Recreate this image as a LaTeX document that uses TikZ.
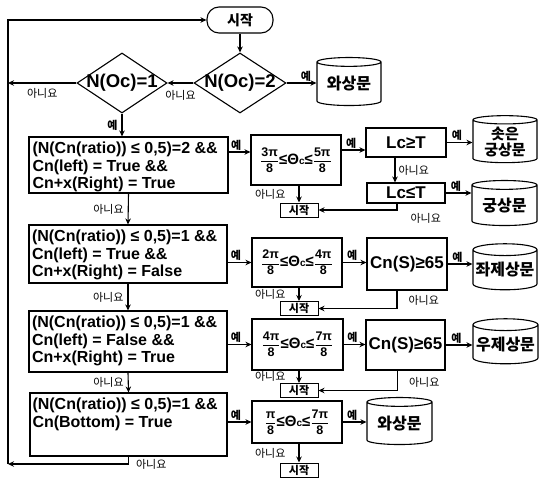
\documentclass[tikz,border=0pt]{standalone}
\usepackage{amsmath}
\usepackage{fontspec}
\setmainfont{Liberation Sans}
\newfontfamily\kr{Noto Sans CJK KR}
\usetikzlibrary{shapes.geometric,arrows.meta,calc}
\newcommand\mycond[2]{\parbox[c][#1][t]{192pt}{#2}}
\newcommand\mybig[1]{{\fontsize{15}{15}\selectfont #1}}
\newcommand\myang[2]{$\dfrac{\text{#1}}{\text{8}}$\mybig{≤Θ}{\fontsize{10}{10}\selectfont c}\mybig{≤}$\dfrac{\text{#2}}{\text{8}}$}
\begin{document}
\begin{tikzpicture}[x=1pt,y=-1pt,
 ln/.style={line width=1.1pt},
 arr/.style={ln,-{Stealth[length=6pt,width=5.5pt]}},
 box/.style={draw,ln,rectangle,inner sep=0pt},
 cond/.style={box,font=\fontsize{16}{17.5}\selectfont\bfseries},
 ang/.style={box,font=\fontsize{12.5}{14}\selectfont\bfseries},
 dec/.style={box,font=\fontsize{17}{19}\selectfont\bfseries},
 dia/.style={draw,ln,diamond,inner sep=0pt,font=\fontsize{18.5}{20}\selectfont\bfseries},
 cyl/.style={draw,ln,cylinder,shape border rotate=90,aspect=0.2,inner sep=0pt,align=center,font=\kr\bfseries\fontsize{16}{17}\selectfont},
 small/.style={box,line width=1pt,font=\kr\bfseries\fontsize{11}{12}\selectfont},
 yes/.style={font=\kr\bfseries\fontsize{11}{12}\selectfont,inner sep=1pt},
 no/.style={font=\kr\fontsize{11}{12}\selectfont,inner sep=1pt}]
\useasboundingbox (0,0) rectangle (539,482);

% nodes
\node[box,rounded corners=12pt,minimum width=66pt,minimum height=26pt,font=\kr\bfseries\fontsize{14}{16}\selectfont] (start) at (240,20) {시작};
\node[dia,minimum width=92pt,minimum height=60pt] (d2) at (240,83) {\makebox[0pt]{N(Oc)=2}};
\node[dia,minimum width=90pt,minimum height=60pt] (d1) at (122,83) {\makebox[0pt]{N(Oc)=1}};
\node[cyl,minimum width=64pt,minimum height=48pt] (c0) at (349,84) {와상문};

\node[cond,minimum width=199pt,minimum height=56pt] (b1) at (128.5,165) {\mycond{46pt}{(N(Cn(ratio)) ≤ 0,5)=2 \&\&\\Cn(left) = True \&\&\\Cn+x(Right) = True}};
\node[cond,minimum width=198pt,minimum height=58pt] (b2) at (128,254) {\mycond{48pt}{(N(Cn(ratio)) ≤ 0,5)=1 \&\&\\Cn(left) = True \&\&\\Cn+x(Right) = False}};
\node[cond,minimum width=198pt,minimum height=61pt] (b3) at (128,341.5) {\mycond{51pt}{(N(Cn(ratio)) ≤ 0,5)=1 \&\&\\Cn(left) = False \&\&\\Cn+x(Right) = True}};
\node[cond,minimum width=197pt,minimum height=63pt] (b4) at (128.5,424.5) {\mycond{53pt}{(N(Cn(ratio)) ≤ 0,5)=1 \&\&\\Cn(Bottom) = True}};

\node[ang,minimum width=90pt,minimum height=50pt] (a1) at (296,160) {\myang{3π}{5π}};
\node[ang,minimum width=90pt,minimum height=49pt] (a2) at (297,262.5) {\myang{2π}{4π}};
\node[ang,minimum width=91pt,minimum height=51pt] (a3) at (297.5,344.5) {\myang{4π}{7π}};
\node[ang,minimum width=90pt,minimum height=42pt] (a4) at (297,422) {\myang{π}{7π}};

\node[small,minimum width=38pt,minimum height=14pt] (s1) at (299,210) {시작};
\node[small,minimum width=38pt,minimum height=14pt] (s2) at (299,308.5) {시작};
\node[small,minimum width=38pt,minimum height=14pt] (s3) at (299,390.5) {시작};
\node[small,minimum width=38pt,minimum height=14pt] (s4) at (299,470) {시작};

\node[dec,minimum width=80pt,minimum height=29pt] (l1) at (406,142.5) {Lc≥T};
\node[dec,minimum width=78pt,minimum height=20pt] (l2) at (406,193) {Lc≤T};
\node[dec,minimum width=80pt,minimum height=52pt] (m2) at (407,264) {Cn(S)≥65};
\node[dec,minimum width=79pt,minimum height=50pt] (m3) at (405.5,345) {Cn(S)≥65};

\node[cyl,minimum width=64pt,minimum height=47pt,font=\kr\bfseries\fontsize{15}{16}\selectfont] (c2) at (505,141.5) {솟은\\궁상문};
\node[cyl,minimum width=65pt,minimum height=45pt] (c3) at (504.5,205.5) {궁상문};
\node[cyl,minimum width=64pt,minimum height=46pt] (c4) at (505,270) {좌제상문};
\node[cyl,minimum width=65pt,minimum height=45pt] (c5) at (505.5,344.5) {우제상문};
\node[cyl,minimum width=65pt,minimum height=47pt] (c6) at (399.5,423.5) {와상문};

\coordinate (lt) at (8,83);
\coordinate (bl) at (8,464);
\coordinate (tl) at (8,20);

% connectors
\draw[arr] (start.south) -- (d2.north);
\draw[arr] (d2.west) -- node[no,below=6pt]{아니요} (d1.east);
\draw[arr] (d1.west) -- node[no,below=4pt]{아니요} (lt);
\draw[arr] (d2.east) -- node[yes,above,pos=0.65]{예} (d2.east -| c0.west);
\draw[arr] (d1.south) -- node[yes,left=3pt]{예} (d1.south |- b1.north);

\draw[arr] (b1.south) -- node[no,left=3pt]{아니요} (b2.north);
\draw[arr] (b2.south) -- node[no,left=3pt]{아니요} (b3.north);
\draw[arr] (b3.south) -- node[no,left=3pt]{아니요} (b4.north);
\draw[arr] (b4.south) |- node[no,pos=0.5,right=6pt]{아니요} (bl);
\draw[arr] (bl) -- (tl) -- (start.west);

\draw[arr] ([yshift=8pt]a1.west -| b1.east) -- node[yes,above,pos=0.35]{예} ([yshift=8pt]a1.west);
\draw[arr] (a2.west -| b2.east) -- node[yes,above,pos=0.35]{예} (a2.west);
\draw[arr] (a3.west -| b3.east) -- node[yes,above,pos=0.35]{예} (a3.west);
\draw[arr] (a4.west -| b4.east) -- node[yes,above,pos=0.35]{예} (a4.west);

\draw[arr] (s1.north |- a1.south) -- node[no,left=12pt]{아니요} (s1.north);
\draw[arr] (s2.north |- a2.south) -- node[no,left=12pt]{아니요} (s2.north);
\draw[arr] (s3.north |- a3.south) -- node[no,left=12pt]{아니요} (s3.north);
\draw[arr] (s4.north |- a4.south) -- node[no,left=12pt]{아니요} (s4.north);

\draw[arr] ([yshift=10pt]a1.east) -- node[yes,above,pos=0.4]{예} ([yshift=10pt]a1.east -| l1.west);
\draw[arr] (l1.east) -- node[yes,above,pos=0.4]{예} (l1.east -| c2.west);
\draw[arr] ([xshift=-11pt]l1.south) -- node[no,right=2pt]{아니요} ([xshift=-11pt]l2.north);
\draw[arr] (l2.east) -- node[yes,above,pos=0.4]{예} (l2.east -| c3.west);
\draw[arr] ([xshift=-9pt]l2.south) |- node[no,pos=0.5,anchor=north west,xshift=12pt,yshift=-2pt]{아니요} (s1.east);

\draw[arr] (a2.east) -- node[yes,above,pos=0.4]{예} (a2.east -| m2.west);
\draw[arr] (m2.east) -- node[yes,above,pos=0.4]{예} (m2.east -| c4.west);
\draw[arr] ([xshift=-10pt]m2.south) |- node[no,pos=0.5,anchor=south west,xshift=10pt,yshift=2pt]{아니요} (s2.east);

\draw[arr] (a3.east) -- node[yes,above,pos=0.4]{예} (a3.east -| m3.west);
\draw[arr] (m3.east) -- node[yes,above,pos=0.4]{예} (m3.east -| c5.west);
\draw[arr] ([xshift=-8pt]m3.south) |- node[no,pos=0.5,anchor=south west,xshift=10pt,yshift=2pt]{아니요} (s3.east);

\draw[arr] (a4.east) -- node[yes,above,pos=0.4]{예} (a4.east -| c6.west);
\end{tikzpicture}
\end{document}
